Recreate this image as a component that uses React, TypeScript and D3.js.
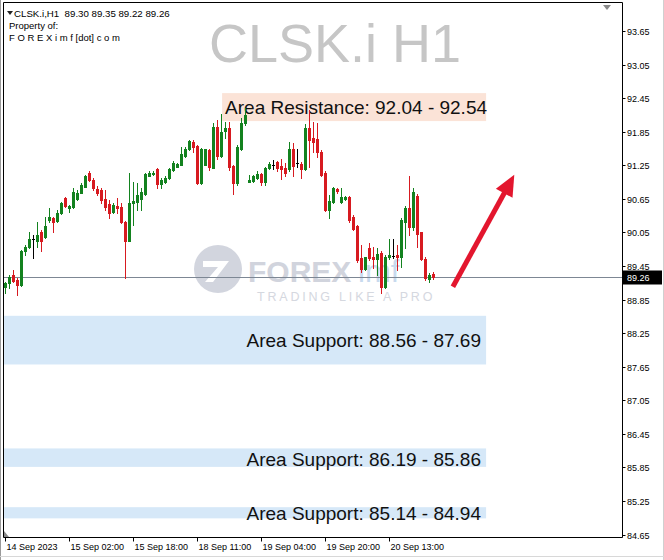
import React from "react";
import * as d3 from "d3";

const W = 664;
const H = 560;

const opens = [
  89.08, 89.15, 89.29, 89.20, 89.11, 89.71, 89.79, 89.93, 89.90, 90.05,
  89.96, 90.27, 90.31, 90.26, 90.39, 90.67, 90.48, 90.51, 90.64, 90.76,
  90.87, 91.11, 90.99, 90.83, 90.81, 90.65, 90.56, 90.42, 90.52, 90.51,
  90.24, 89.90, 90.57, 90.60, 90.65, 90.73, 91.06, 91.09, 91.18, 90.91,
  90.95, 91.02, 91.17, 91.22, 91.26, 91.42, 91.54, 91.67, 91.60, 90.93,
  91.26, 91.52, 91.21, 91.94, 91.42, 91.86, 91.91, 91.24, 90.93, 91.55,
  92.00, 90.95, 90.97, 91.03, 91.09, 90.96, 91.20, 91.26, 91.30, 91.24,
  91.21, 91.18, 91.55, 91.29, 91.27, 91.18, 91.91, 91.74, 91.72, 91.48,
  91.11, 90.45, 90.60, 90.83, 90.60, 90.64, 90.68, 90.32, 90.17, 89.59,
  89.39, 89.77, 89.61, 89.57, 89.68, 89.08, 89.61, 89.63, 89.65, 89.61,
  90.24, 90.48, 90.15, 90.70, 90.05, 89.57, 89.21, 89.30,
];
const highs = [
  89.17, 89.29, 89.38, 89.24, 89.74, 89.83, 90.06, 90.00, 90.24, 90.09,
  90.33, 90.49, 90.33, 90.45, 90.60, 90.69, 90.54, 90.84, 90.81, 90.93,
  91.08, 91.14, 91.02, 90.88, 90.84, 90.80, 90.63, 90.57, 90.67, 90.57,
  90.25, 91.11, 90.95, 90.93, 90.84, 91.11, 91.14, 91.14, 91.20, 91.02,
  91.05, 91.20, 91.33, 91.29, 91.58, 91.58, 91.70, 91.70, 91.61, 91.56,
  91.55, 91.55, 92.00, 92.06, 92.17, 92.03, 92.03, 91.26, 91.61, 92.09,
  92.27, 91.08, 91.08, 91.15, 91.12, 91.22, 91.31, 91.34, 91.33, 91.37,
  91.29, 91.66, 91.64, 91.54, 91.31, 91.98, 92.24, 92.02, 92.00, 91.52,
  91.14, 90.72, 90.87, 90.84, 90.84, 90.70, 90.70, 90.36, 90.18, 89.83,
  89.62, 89.86, 89.79, 89.77, 89.71, 89.65, 89.94, 89.94, 89.83, 90.30,
  90.52, 91.05, 90.84, 90.74, 90.06, 89.62, 89.32, 89.35,
];
const lows = [
  88.97, 89.06, 89.17, 88.93, 89.10, 89.65, 89.77, 89.59, 89.79, 89.71,
  89.95, 90.24, 90.06, 90.24, 90.38, 90.51, 90.42, 90.48, 90.63, 90.75,
  90.86, 90.97, 90.81, 90.72, 90.57, 90.45, 90.30, 90.39, 90.39, 90.21,
  89.24, 89.90, 90.18, 90.45, 90.45, 90.72, 91.06, 91.08, 90.84, 90.84,
  90.93, 91.01, 91.14, 91.22, 91.26, 91.40, 91.52, 91.49, 90.92, 90.92,
  91.26, 91.17, 91.20, 91.37, 91.40, 91.73, 91.17, 90.74, 90.90, 91.52,
  91.97, 90.95, 90.95, 91.00, 90.90, 90.89, 91.18, 91.18, 91.14, 91.00,
  91.05, 91.15, 91.06, 91.22, 91.03, 91.17, 91.22, 91.49, 91.40, 91.05,
  90.43, 90.30, 90.57, 90.75, 90.58, 90.63, 90.24, 90.09, 89.53, 89.35,
  89.38, 89.56, 89.41, 89.29, 88.96, 89.05, 89.57, 89.59, 89.38, 89.44,
  89.77, 90.00, 90.09, 89.79, 89.56, 89.20, 89.17, 89.22,
];
const closes = [
  89.15, 89.26, 89.19, 89.11, 89.71, 89.79, 89.93, 89.93, 90.00, 89.90,
  90.17, 90.33, 90.24, 90.40, 90.58, 90.52, 90.52, 90.78, 90.76, 90.90,
  91.05, 90.99, 90.84, 90.76, 90.63, 90.50, 90.40, 90.54, 90.49, 90.24,
  89.90, 90.57, 90.61, 90.72, 90.78, 91.09, 91.12, 91.12, 90.91, 90.99,
  91.02, 91.18, 91.29, 91.27, 91.45, 91.54, 91.68, 91.58, 90.93, 91.55,
  91.54, 91.22, 91.94, 91.42, 91.85, 91.92, 91.22, 90.93, 91.58, 92.00,
  92.15, 90.99, 91.05, 91.09, 90.95, 91.21, 91.27, 91.26, 91.21, 91.18,
  91.12, 91.55, 91.24, 91.29, 91.18, 91.91, 91.70, 91.67, 91.48, 91.08,
  90.45, 90.61, 90.84, 90.79, 90.68, 90.68, 90.27, 90.12, 89.56, 89.39,
  89.61, 89.59, 89.57, 89.66, 89.08, 89.62, 89.65, 89.63, 89.61, 90.27,
  90.48, 90.15, 90.78, 90.03, 89.57, 89.23, 89.29, 89.26,
];

const timeLabels = ["14 Sep 2023", "15 Sep 02:00", "15 Sep 18:00", "18 Sep 11:00", "19 Sep 04:00", "19 Sep 20:00", "20 Sep 13:00"];
const timeLabelBars = [0, 16, 32, 48, 64, 80, 96];
const priceTicks = [93.65, 93.05, 92.45, 91.85, 91.25, 90.65, 90.05, 89.45, 88.85, 88.25, 87.65, 87.05, 86.45, 85.85, 85.25, 84.65];

const zoneLabels = ["Area Resistance: 92.04 - 92.54", "Area Support: 88.56 - 87.69", "Area Support: 86.19 - 85.86", "Area Support: 85.14 - 84.94"];
const zoneHigh = [92.54, 88.56, 86.19, 85.14];
const zoneLow = [92.04, 87.69, 85.86, 84.94];
const zoneStartBar = [54.2, -0.3, -0.3, -0.3];
const zoneEndBar = [120.2, 120.2, 120.2, 120.2];

const lastPrice = 89.26;
const headerText = "CLSK.i,H1  89.30 89.35 89.22 89.26";
const arrowStart = { bar: 111.9, price: 89.08 };
const arrowTip = { bar: 127.25, price: 91.08 };

const FONT = "'Liberation Sans', Arial, sans-serif";
const GREEN = "#13821f";
const RED = "#d71a20";

export default function App() {
  const plotL = 3.5, plotR = 622.5, plotT = 2.5, plotB = 537.5;
  const x = d3.scaleLinear().domain([0, 107]).range([5.3, 433.3]);
  const y = d3.scaleLinear().domain([84.65, 93.65]).range([534.6, 31]);

  const candles = opens.map((o, i) => {
    const c = closes[i];
    const cx = Math.round(x(i));
    const col = c > o ? GREEN : c < o ? RED : "#000";
    const yt = Math.round(y(Math.max(o, c)));
    const yb = Math.round(y(Math.min(o, c)));
    const yh = Math.round(y(highs[i]));
    const yl = Math.round(y(lows[i]));
    return (
      <g key={i}>
        <rect x={cx} y={yh} width={1} height={Math.max(1, yl - yh + 1)} fill={col} />
        {c === o ? (
          <rect x={cx - 1} y={yt} width={3} height={1} fill={col} />
        ) : (
          <rect x={cx - 1} y={yt} width={3} height={Math.max(1, yb - yt + 1)} fill={col} />
        )}
      </g>
    );
  });

  const sx = x(arrowStart.bar), sy = y(arrowStart.price);
  const tx = x(arrowTip.bar), ty = y(arrowTip.price);
  const len = Math.hypot(tx - sx, ty - sy);
  const ux = (tx - sx) / len, uy = (ty - sy) / len;
  const bx = tx - 21 * ux, by = ty - 21 * uy;
  const px = -uy, py = ux;
  const hw = 9.5;
  const head = `${tx},${ty} ${bx + hw * px},${by + hw * py} ${bx - hw * px},${by - hw * py}`;

  const lastY = Math.round(y(lastPrice)) + 0.5;
  const supportDy = [17, 1, -2];

  return (
    <svg width={W} height={H} style={{ position: "absolute", left: 0, top: 0, background: "#fff" }} fontFamily={FONT}>
      <rect x={0} y={0} width={W} height={H} fill="#fff" />
      <line x1={0.5} y1={0} x2={0.5} y2={H} stroke="#9a9a9a" />
      <line x1={W - 0.5} y1={0} x2={W - 0.5} y2={H} stroke="#d0d0d0" />
      <line x1={0} y1={556.5} x2={W} y2={556.5} stroke="#d8d8d8" />

      <text x={335} y={62} textAnchor="middle" fontSize={54} fill="#c6c6c6">CLSK.i H1</text>

      {zoneLabels.map((lab, i) => (
        <rect key={"z" + i} x={x(zoneStartBar[i])} y={y(zoneHigh[i])} width={x(zoneEndBar[i]) - x(zoneStartBar[i])}
          height={y(zoneLow[i]) - y(zoneHigh[i])} fill={i === 0 ? "#fbe3d7" : "#d6e8f8"} />
      ))}

      <g opacity={0.95}>
        <circle cx={218} cy={269} r={24} fill="#d0d3dd" />
        <path d="M203,261 L229,261 L213,282 L205,282 L218,267 L203,267 Z" fill="#fff" />
        <text x={248} y={282} fontSize={30} fontWeight="bold" fill="#cfd2dc">FOREX</text>
        <text x={358} y={282} fontSize={31} fill="#c6d9ee">imf</text>
        <text x={257} y={301} fontSize={12.5} fill="#d3d6de" letterSpacing={2.8}>TRADING LIKE A PRO</text>
      </g>

      <text x={x(zoneStartBar[0]) + 3} y={y(zoneLow[0]) - 7} fontSize={19} fill="#111">{zoneLabels[0]}</text>
      {zoneLabels.slice(1).map((lab, j) => (
        <text key={"zl" + j} x={481} y={y(zoneLow[j + 1]) - supportDy[j]} textAnchor="end" fontSize={19} fill="#111">{lab}</text>
      ))}

      <line x1={plotL} x2={plotR} y1={lastY} y2={lastY} stroke="#7d8794" strokeWidth={1} />

      {candles}

      <line x1={sx} y1={sy} x2={bx + 2 * ux} y2={by + 2 * uy} stroke="#e3162e" strokeWidth={5} />
      <polygon points={head} fill="#e3162e" />

      <line x1={plotL} y1={plotT} x2={plotL} y2={plotB} stroke="#000" />
      <line x1={plotL} y1={plotT} x2={plotR} y2={plotT} stroke="#000" />
      <line x1={plotR} y1={plotT} x2={plotR} y2={plotB} stroke="#000" />
      <line x1={plotL} y1={plotB} x2={plotR} y2={plotB} stroke="#000" />

      <polygon points="7,11 13,11 10,15" fill="#222" />
      <text x={14} y={16.5} fontSize={9.7} fill="#000" style={{ whiteSpace: "pre" }}>{headerText}</text>
      <text x={9} y={28.5} fontSize={9.5} fill="#000">Property of:</text>
      <text x={9} y={41} fontSize={9.5} fill="#000">F O R E X i m f [dot] c o m</text>
      <polygon points="603,5 611,5 607,10" fill="#8a8a8a" />
      <polygon points="4,531 4,537 9,537" fill="#8a8a8a" />

      {priceTicks.map((p) => {
        const yy = Math.round(y(p)) + 0.5;
        return (
          <g key={p}>
            <line x1={plotR} x2={plotR + 3} y1={yy} y2={yy} stroke="#000" />
            <text x={627} y={yy + 3.5} fontSize={9} fill="#000">{p.toFixed(2)}</text>
          </g>
        );
      })}
      <rect x={623} y={lastY - 7} width={39} height={14} fill="#000" />
      <text x={627} y={lastY + 3.5} fontSize={9} fill="#fff">{lastPrice.toFixed(2)}</text>

      {timeLabels.map((t, i) => {
        const xx = Math.round(x(timeLabelBars[i])) + 0.5;
        return (
          <g key={t}>
            <line x1={xx} x2={xx} y1={plotB} y2={plotB + 4} stroke="#000" />
            <text x={xx + 1} y={550} fontSize={9} fill="#000">{t}</text>
          </g>
        );
      })}
    </svg>
  );
}
